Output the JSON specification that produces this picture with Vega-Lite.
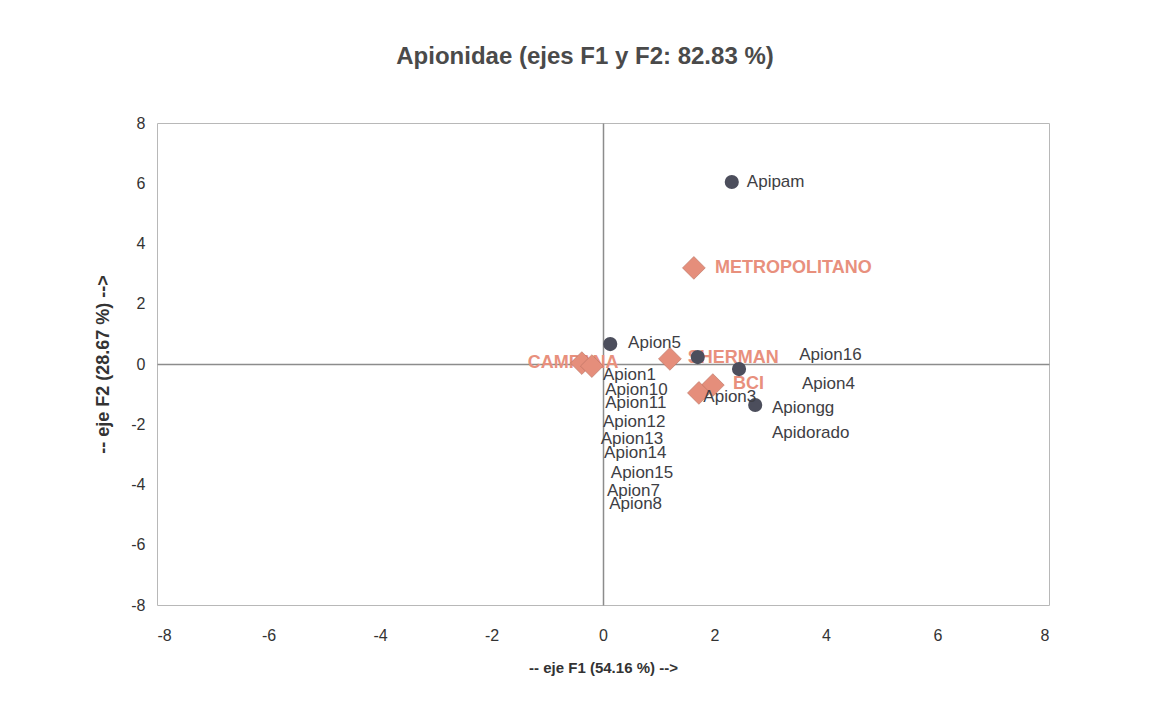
{
  "$schema": "https://vega.github.io/schema/vega-lite/v6.json",
  "width": 892,
  "height": 482,
  "autosize": "none",
  "padding": {"left": 157, "top": 123, "right": 113, "bottom": 114},
  "background": "white",
  "title": {
    "text": "Apionidae (ejes F1 y F2: 82.83 %)",
    "font": "Liberation Sans",
    "fontSize": 24,
    "fontWeight": "bold",
    "color": "#4a4a4a",
    "anchor": "middle",
    "offset": 46,
    "dx": -18
  },
  "config": {
    "view": {"stroke": "#b8b8b8", "strokeWidth": 1},
    "axis": {
      "domain": false,
      "ticks": false,
      "grid": true,
      "gridColor": {"condition": {"test": "datum.value === 0", "value": "#8c8c8c"}, "value": "transparent"},
      "gridWidth": 1.5,
      "labelFont": "Liberation Sans",
      "labelFontSize": 16,
      "labelColor": "#333333",
      "labelExpr": "datum.value < 0 ? '-' + abs(datum.value) : '' + datum.value",
      "titleFont": "Liberation Sans",
      "titleFontWeight": "bold",
      "titleColor": "#333333"
    }
  },
  "datasets": {
    "especies": [
      {"nombre": "Apipam", "F1": 2.31, "F2": 6.04},
      {"nombre": "Apion5", "F1": 0.13, "F2": 0.66},
      {"nombre": "Apion2", "F1": 1.70, "F2": 0.23},
      {"nombre": "Apion16", "F1": 2.44, "F2": -0.17},
      {"nombre": "Apiongg", "F1": 2.73, "F2": -1.36}
    ],
    "etiquetas": [
      {"texto": "Apipam", "F1": 2.58, "F2": 6.04},
      {"texto": "Apion5", "F1": 0.45, "F2": 0.70},
      {"texto": "Apion16", "F1": 3.52, "F2": 0.30},
      {"texto": "Apion4", "F1": 3.57, "F2": -0.66},
      {"texto": "Apiongg", "F1": 3.03, "F2": -1.46},
      {"texto": "Apidorado", "F1": 3.03, "F2": -2.29},
      {"texto": "Apion3", "F1": 1.80, "F2": -1.10},
      {"texto": "Apion1", "F1": 0.0, "F2": -0.37},
      {"texto": "Apion10", "F1": 0.04, "F2": -0.86},
      {"texto": "Apion11", "F1": 0.04, "F2": -1.29},
      {"texto": "Apion12", "F1": 0.0, "F2": -1.93},
      {"texto": "Apion13", "F1": -0.04, "F2": -2.49},
      {"texto": "Apion14", "F1": 0.02, "F2": -2.96},
      {"texto": "Apion15", "F1": 0.14, "F2": -3.62},
      {"texto": "Apion7", "F1": 0.07, "F2": -4.22},
      {"texto": "Apion8", "F1": 0.11, "F2": -4.65}
    ],
    "sitios": [
      {"sitio": "METROPOLITANO", "F1": 1.63, "F2": 3.19},
      {"sitio": "SHERMAN", "F1": 1.20, "F2": 0.17},
      {"sitio": "BCI", "F1": 1.97, "F2": -0.70},
      {"sitio": "FORT", "F1": 1.72, "F2": -0.96},
      {"sitio": "CAMPANA", "F1": -0.38, "F2": 0.03},
      {"sitio": "PIPELINE", "F1": -0.20, "F2": -0.07}
    ],
    "rotulos_sitios": [
      {"texto": "METROPOLITANO", "F1": 2.01, "F2": 3.19},
      {"texto": "SHERMAN", "F1": 1.52, "F2": 0.20},
      {"texto": "BCI", "F1": 2.33, "F2": -0.66},
      {"texto": "CAMPANA", "F1": -1.35, "F2": 0.03}
    ]
  },
  "encoding": {
    "x": {
      "field": "F1", "type": "quantitative",
      "scale": {"domain": [-8, 8], "nice": false, "zero": false},
      "axis": {
        "values": [-8, -6, -4, -2, 0, 2, 4, 6, 8],
        "title": "-- eje F1 (54.16 %) -->",
        "titleFontSize": 15,
        "labelPadding": 22,
        "titlePadding": 17
      }
    },
    "y": {
      "field": "F2", "type": "quantitative",
      "scale": {"domain": [-8, 8], "nice": false, "zero": false},
      "axis": {
        "values": [-8, -6, -4, -2, 0, 2, 4, 6, 8],
        "title": "-- eje F2 (28.67 %) -->",
        "titleFontSize": 18,
        "labelPadding": 12,
        "titlePadding": 18
      }
    }
  },
  "layer": [
    {
      "data": {"name": "rotulos_sitios"},
      "mark": {"type": "text", "align": "left", "baseline": "middle", "font": "Liberation Sans", "fontSize": 18, "fontWeight": "bold", "color": "#e8907d"},
      "encoding": {"text": {"field": "texto"}}
    },
    {
      "data": {"name": "sitios"},
      "mark": {"type": "point", "shape": "diamond", "filled": true, "size": 520, "color": "#e58e7b", "opacity": 1, "stroke": "#b7705f", "strokeWidth": 0.6}
    },
    {
      "data": {"name": "especies"},
      "mark": {"type": "circle", "size": 200, "color": "#4c4e5c", "opacity": 1}
    },
    {
      "data": {"name": "etiquetas"},
      "mark": {"type": "text", "align": "left", "baseline": "middle", "font": "Liberation Sans", "fontSize": 17, "color": "#3e3e44"},
      "encoding": {"text": {"field": "texto"}}
    }
  ]
}
